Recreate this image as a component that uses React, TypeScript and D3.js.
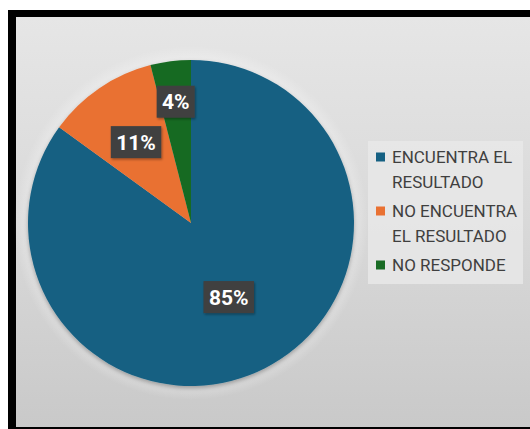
import React from "react";
import * as d3 from "d3";

const categories = ["ENCUENTRA EL RESULTADO", "NO ENCUENTRA EL RESULTADO", "NO RESPONDE"];
const values = [85, 11, 4];
const labelTexts = ["85%", "11%", "4%"];
const legendLines = [["ENCUENTRA EL", "RESULTADO"], ["NO ENCUENTRA", "EL RESULTADO"], ["NO RESPONDE"]];
const colors = ["#156082", "#E97132", "#196B24"];

const W = 530;
const H = 429;
const cx = 191;
const cy = 223;
const R = 163;
const labelRadiusFrac = [0.51, 0.6, 0.75];

export default function App() {
  const pie = d3.pie<number>().sort(null).value((d) => d)(values);
  const arc = d3.arc<d3.PieArcDatum<number>>().innerRadius(0).outerRadius(R);

  const legendX = 376;
  const legendTop = 157;
  const lineH = 25;
  const groupGap = 29;
  let y = legendTop;
  const legendItems = legendLines.map((lines, i) => {
    const item = { i, y, lines };
    y += (lines.length - 1) * lineH + groupGap;
    return item;
  });

  return (
    <svg
      width={W}
      height={H}
      style={{ position: "absolute", left: 0, top: 0 }}
      fontFamily="Roboto, 'Noto Sans', sans-serif"
    >
      <defs>
        <linearGradient id="bg" x1="0" y1="0" x2="0" y2="1">
          <stop offset="0" stopColor="#e6e6e6" />
          <stop offset="0.5" stopColor="#d9d9d9" />
          <stop offset="1" stopColor="#c9c9c9" />
        </linearGradient>
        <radialGradient id="glow" cx="0.5" cy="0.5" r="0.5">
          <stop offset="0.85" stopColor="#ffffff" stopOpacity="0.55" />
          <stop offset="1" stopColor="#ffffff" stopOpacity="0" />
        </radialGradient>
        <filter id="shadow" x="-20%" y="-20%" width="140%" height="140%">
          <feDropShadow dx="0" dy="2" stdDeviation="2" floodColor="#000" floodOpacity="0.3" />
        </filter>
        <filter id="lshadow" x="-20%" y="-20%" width="140%" height="140%">
          <feDropShadow dx="1" dy="1.5" stdDeviation="1" floodColor="#000" floodOpacity="0.35" />
        </filter>
      </defs>
      <rect x={0} y={0} width={W} height={H} fill="#ffffff" />
      <rect x={8} y={10} width={W - 8} height={H - 10} fill="#000000" />
      <rect x={16} y={17} width={W - 16} height={410} fill="url(#bg)" />
      <circle cx={cx} cy={cy} r={R + 14} fill="url(#glow)" />
      <rect x={368} y={141} width={155} height={143} fill="#e8e8e8" opacity={0.8} />

      <g transform={`translate(${cx},${cy})`} filter="url(#shadow)">
        {pie.map((p, i) => (
          <path key={i} d={arc(p) || ""} fill={colors[i]} />
        ))}
      </g>

      {pie.map((p, i) => {
        const a = (p.startAngle + p.endAngle) / 2;
        const r = R * labelRadiusFrac[i];
        const lx = cx + Math.sin(a) * r;
        const ly = cy - Math.cos(a) * r;
        const w = labelTexts[i].length * 12.5 + 13;
        const h = 32;
        return (
          <g key={i}>
            <rect x={lx - w / 2} y={ly - h / 2} width={w} height={h} fill="#404040" filter="url(#lshadow)" />
            <text
              x={lx}
              y={ly}
              dy="0.36em"
              textAnchor="middle"
              fill="#ffffff"
              fontWeight="bold"
              fontSize={21}
            >
              {labelTexts[i]}
            </text>
          </g>
        );
      })}

      {legendItems.map((it) => (
        <g key={it.i}>
          <rect x={legendX} y={it.y - 4.5} width={9} height={9} fill={colors[it.i]} />
          {it.lines.map((ln, j) => (
            <text key={j} x={legendX + 16} y={it.y + j * lineH} dy="0.35em" fontSize={17} fill="#3f3f3f">
              {ln}
            </text>
          ))}
        </g>
      ))}
      <title>{categories.join(", ")}</title>
    </svg>
  );
}
